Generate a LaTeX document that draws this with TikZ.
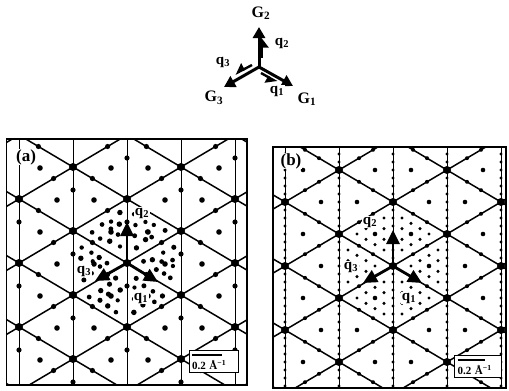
\documentclass[tikz,border=0pt]{standalone}
\usepackage{fontspec}
\setmainfont{Liberation Serif}
\usetikzlibrary{arrows.meta}

\newcommand{\qsub}[2]{\textbf{#1}\textsubscript{\textbf{#2}}}

\begin{document}
\begin{tikzpicture}[
x=1pt, y=-1pt,
frame/.style={line width=1.6pt},
vline/.style={line width=0.8pt},
dline/.style={line width=1.5pt},
garrow/.style={line width=3pt, -{Triangle[length=11pt,width=12pt]}},
qharp/.style={line width=2.4pt, -{Triangle[harpoon,swap,length=9pt,width=13pt]}},
qarrow/.style={line width=2.8pt, -{Triangle[length=14pt,width=13pt]}},
glabel/.style={font=\fontsize{16}{16}\selectfont, inner sep=0pt},
qlabel/.style={font=\fontsize{15}{15}\selectfont, fill=white, inner sep=0.8pt},
plabel/.style={font=\fontsize{17}{17}\selectfont\bfseries, fill=white, inner sep=0.5pt},
sbox/.style={draw, fill=white, line width=1pt, align=left, inner xsep=3pt, inner ysep=3pt,
    font=\fontsize{11}{11}\selectfont\bfseries}
]
\useasboundingbox (0,0) rectangle (509,391);

% Legend of the reciprocal vectors
\coordinate (o) at (259,67);
\coordinate (g2) at (259,27);
\coordinate (g1) at (293,86);
\coordinate (g3) at (224,87);
\draw[garrow] (o) -- (g2);
\draw[garrow] (o) -- (g1);
\draw[garrow] (o) -- (g3);
\coordinate (q2s) at (262,58);
\coordinate (q2e) at (262,37);
\coordinate (q1s) at (261,73);
\coordinate (q1e) at (277,82);
\coordinate (q3s) at (252,65);
\coordinate (q3e) at (235,74);
\draw[qharp] (q2s) -- (q2e);
\draw[qharp] (q1s) -- (q1e);
\draw[qharp] (q3s) -- (q3e);
\node[glabel] (lg2) at (261,13) {\qsub{G}{2}};
\node[glabel] (lg1) at (307,99) {\qsub{G}{1}};
\node[glabel] (lg3) at (214,98) {\qsub{G}{3}};
\node[qlabel] (lq2) at (282,43) {\qsub{q}{2}};
\node[qlabel] (lq1) at (277,91) {\qsub{q}{1}};
\node[qlabel] (lq3) at (223,62) {\qsub{q}{3}};

% Panel (a)
\begin{scope}
\clip (6.5,139) rectangle (247,385);
\begin{scope}[shift={(127,263)}]
\foreach \i in {-3,...,3} \draw[vline] ({54*\i},-150) -- ({54*\i},150);
\foreach \j in {-4,...,4} {
    \draw[dline] (-140,{-83+64*\j}) -- (140,{83+64*\j});
    \draw[dline] (-140,{83+64*\j}) -- (140,{-83+64*\j});
}
\foreach \i in {-3,...,3} \foreach \j in {-5,...,5} {
    \fill ({54*\i},{32*\i+64*\j}) circle (4);
    \fill ({54*\i+19.4},{32*\i+64*\j+11.5}) circle (2.6);
    \fill ({54*\i-19.4},{32*\i+64*\j+11.5}) circle (2.6);
    \fill ({54*\i},{32*\i+64*\j+23}) circle (2.6);
    \fill ({54*\i+38},{32*\i+64*\j+1}) circle (2.8);
    \fill ({54*\i+21},{32*\i+64*\j+33}) circle (2.8);
}
% satellite cluster
\pgfmathsetseed{7}
\foreach \m in {-5,...,5} \foreach \k in {-5,...,5} {
    \pgfmathtruncatemacro\hx{(abs(\m)+abs(\k)+abs((\m)+(\k)))/2}
    \pgfmathtruncatemacro\onl{((\m)==0)||((\k)==0)||((\m)+(\k)==0)}
    \ifnum\hx<6 \ifnum\onl=0
        \pgfmathsetmacro\px{9*(\m)+2.5*rand}
        \pgfmathsetmacro\py{(32*(\m)+64*(\k))/6+2.5*rand}
        \pgfmathsetmacro\pr{2.1+0.7*rnd}
        \fill (\px,\py) circle (\pr);
    \fi\fi
}
\coordinate (ca) at (0,0);
\coordinate (a1) at (31,19);
\coordinate (a2) at (0,-41);
\coordinate (a3) at (-32,18);
\end{scope}
\end{scope}
\draw[frame] (6.5,139) rectangle (247,385);
\draw[qarrow] (ca) -- (a1);
\draw[qarrow] (ca) -- (a2);
\draw[qarrow] (ca) -- (a3);
\node[qlabel] (la1) at (141,298) {\qsub{q}{1}};
\node[qlabel] (la2) at (142,213) {\qsub{q}{2}};
\node[qlabel] (la3) at (84,271) {\qsub{q}{3}};
\node[plabel] (pa) at (26,157) {(a)};
\node[sbox, text width=43pt] (sba) at (213.5,361.5)
    {\rule{30pt}{2.2pt}\\[2pt]0.2 Å\textsuperscript{−1}};

% Panel (b)
\begin{scope}
\clip (273,147) rectangle (506,388);
\begin{scope}[shift={(393,266)}]
\foreach \i in {-3,...,3} \draw[vline] ({54*\i},-150) -- ({54*\i},150);
\foreach \j in {-4,...,4} {
    \draw[dline] (-140,{-83+64*\j}) -- (140,{83+64*\j});
    \draw[dline] (-140,{83+64*\j}) -- (140,{-83+64*\j});
}
\foreach \i in {-3,...,3} \foreach \j in {-5,...,5} {
    \fill ({54*\i},{32*\i+64*\j}) circle (4);
    \foreach \k in {1,...,7}
        \fill ({54*\i},{32*\i+64*\j+8*\k}) circle (1.6);
    \fill ({54*\i+20},{32*\i+64*\j+11.8}) circle (2);
    \fill ({54*\i+34},{32*\i+64*\j+20.2}) circle (2);
    \fill ({54*\i+20},{32*\i+64*\j-11.8}) circle (2);
    \fill ({54*\i+34},{32*\i+64*\j-20.2}) circle (2);
    \fill ({54*\i+36},{32*\i+64*\j}) circle (2.3);
    \fill ({54*\i+18},{32*\i+64*\j+32}) circle (2.3);
}
% satellite cluster
\foreach \m in {-5,...,5} \foreach \k in {-5,...,5} {
    \pgfmathtruncatemacro\hx{(abs(\m)+abs(\k)+abs((\m)+(\k)))/2}
    \pgfmathtruncatemacro\onl{((\m)==0)||((\k)==0)||((\m)+(\k)==0)}
    \ifnum\hx<6 \ifnum\onl=0
        \fill ({9*(\m)},{(32*(\m)+64*(\k))/6}) circle (1.7);
    \fi\fi
}
\coordinate (cb) at (0,0);
\coordinate (b1) at (29,17);
\coordinate (b2) at (0,-36);
\coordinate (b3) at (-30,17);
\end{scope}
\end{scope}
\draw[frame] (273,147) rectangle (506,388);
\draw[qarrow] (cb) -- (b1);
\draw[qarrow] (cb) -- (b2);
\draw[qarrow] (cb) -- (b3);
\node[qlabel] (lb1) at (409,298) {\qsub{q}{1}};
\node[qlabel] (lb2) at (370,222) {\qsub{q}{2}};
\node[qlabel] (lb3) at (351,267) {\qsub{q}{3}};
\node[plabel] (pb) at (291,161) {(b)};
\node[sbox, text width=41pt] (sbb) at (478,366.7)
    {\rule{27pt}{2.2pt}\\[3pt]0.2 Å\textsuperscript{−1}};

\end{tikzpicture}
\end{document}
